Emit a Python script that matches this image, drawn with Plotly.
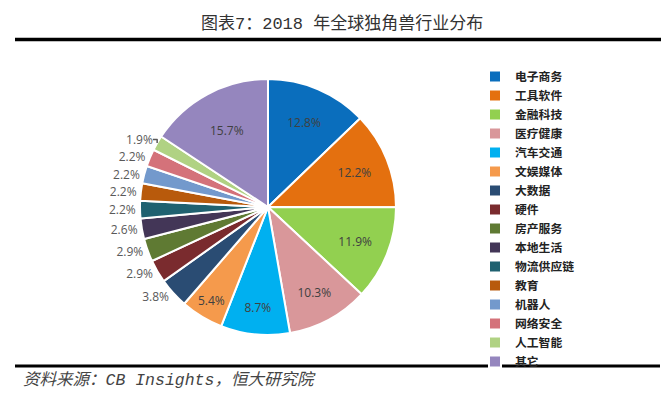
import plotly.graph_objects as go

labels = ["电子商务", "工具软件", "金融科技", "医疗健康", "汽车交通", "文娱媒体", "大数据", "硬件",
          "房产服务", "本地生活", "物流供应链", "教育", "机器人", "网络安全", "人工智能", "其它"]
values = [12.8, 12.2, 11.9, 10.3, 8.7, 5.4, 3.8, 2.9, 2.9, 2.6, 2.2, 2.2, 2.2, 2.2, 1.9, 15.7]
colors = ["#0A6EBD", "#E4700F", "#92D050", "#D9979A", "#00B0F0", "#F59A4C", "#2A4C73", "#7A2B2E",
          "#5F7A33", "#433657", "#1F6170", "#B85A0C", "#7399CC", "#D4727A", "#B0D283", "#9586BE"]
label_text = [f"{v:.1f}%" for v in values]
positions = ["inside" if (v >= 5 and i < 6) or i == len(values) - 1 else "outside"
             for i, v in enumerate(values)]

W, H = 669, 393
cx, cy_top, half = 260, 199, 128

fig = go.Figure()
fig.add_trace(go.Pie(
    labels=labels, values=values, text=label_text, textinfo="text",
    textposition=positions, insidetextorientation="horizontal",
    sort=False, direction="clockwise", rotation=0,
    marker=dict(colors=colors, line=dict(color="white", width=2)),
    textfont=dict(family="Open Sans, Noto Sans", size=12, color="#404040"),
    outsidetextfont=dict(family="Open Sans, Noto Sans", size=12, color="#595959"),
    domain=dict(x=[(cx - half) / W, (cx + half) / W],
                y=[(H - cy_top - half) / H, (H - cy_top + half) / H]),
    hoverinfo="label+text",
))

fig.update_layout(
    width=W, height=H,
    margin=dict(l=0, r=0, t=0, b=0),
    paper_bgcolor="white", plot_bgcolor="white",
    showlegend=True,
    legend=dict(x=467 / W, y=1 - 54 / H, xanchor="left", yanchor="top",
                font=dict(family="Noto Sans CJK SC", size=11.8, color="#222222", weight="bold"),
                itemwidth=30, tracegroupgap=0, bgcolor="rgba(0,0,0,0)"),
    font=dict(family="Noto Sans CJK SC"),
    shapes=[
        dict(type="line", xref="paper", yref="paper", x0=7 / W, x1=655 / W,
             y0=1 - 31.5 / H, y1=1 - 31.5 / H, line=dict(color="black", width=3.5)),
        dict(type="line", xref="paper", yref="paper", x0=7 / W, x1=652 / W,
             y0=1 - 358 / H, y1=1 - 358 / H, line=dict(color="black", width=3)),
    ],
    annotations=[
        dict(text="图表7：2018 年全球独角兽行业分布", xref="paper", yref="paper",
             x=334 / W, y=1 - 16 / H, xanchor="center", yanchor="middle", showarrow=False,
             font=dict(family="Liberation Mono, Noto Sans CJK SC", size=17, color="#333333")),
        dict(text="<i>资料来源：CB Insights，恒大研究院</i>", xref="paper", yref="paper",
             x=13 / W, y=1 - 372 / H, xanchor="left", yanchor="middle", showarrow=False,
             font=dict(family="Liberation Mono, Noto Sans CJK SC", size=16.5, color="#444444")),
    ],
)

fig.write_html("out.html")
